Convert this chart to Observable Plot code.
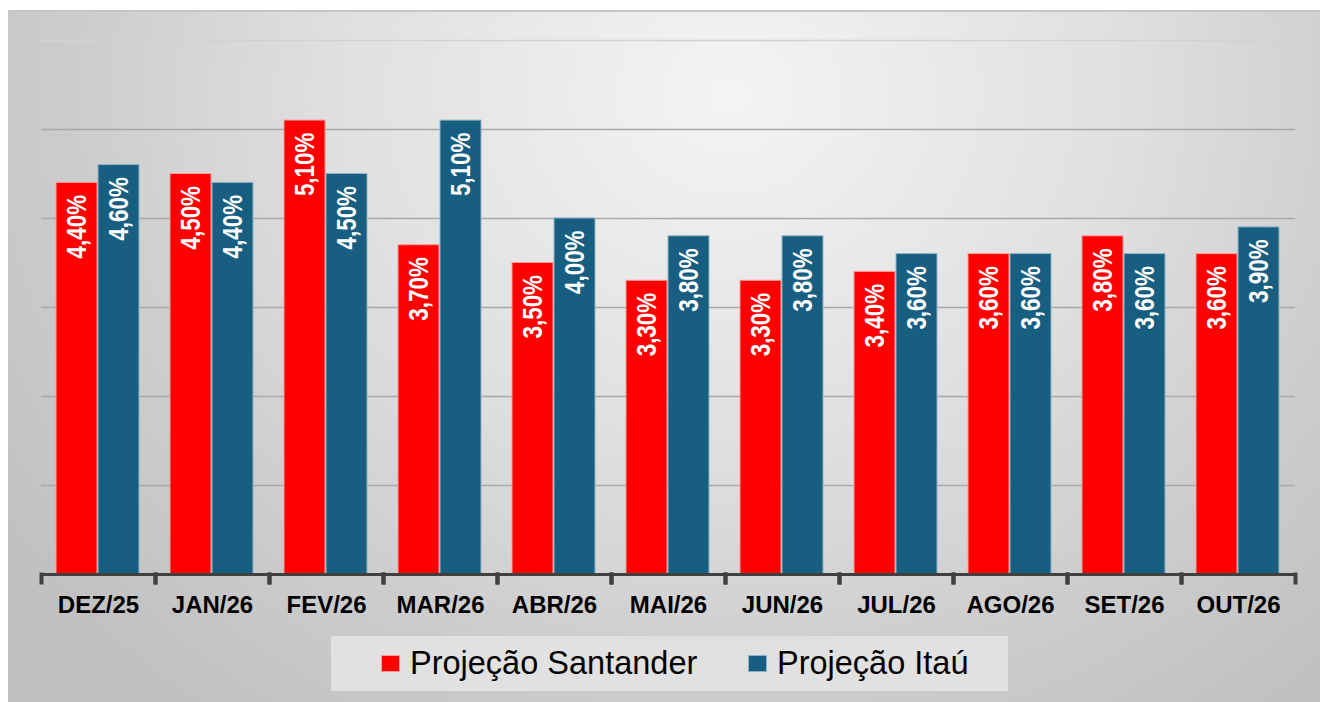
<!DOCTYPE html>
<html>
<head>
<meta charset="utf-8">
<script src="https://cdn.jsdelivr.net/npm/d3@7"></script>
<script src="https://cdn.jsdelivr.net/npm/@observablehq/plot@0.6"></script>
<style>
  html, body { margin: 0; padding: 0; background: #ffffff; width: 1320px; height: 702px; overflow: hidden; }
  #frame {
    position: absolute; left: 8px; top: 10px; width: 1312px; height: 692px;
    background: radial-gradient(ellipse 66% 112% at 55% 12%, #f4f4f4 0%, #e0e0e0 45%, #cdcdcd 75%, #c1c1c1 100%);
    border-top: 2px solid #c4c4c4; box-sizing: border-box;
  }
  #chart { position: absolute; left: 0; top: 0; }
  #legend {
    position: absolute; left: 331px; top: 636px; width: 677px; height: 55px;
    background: #e1e1e1; font-family: "Liberation Sans", Arial, sans-serif; font-size: 32.5px; color: #000;
  }
  .item { position: absolute; top: 0; height: 55px; display: flex; align-items: center; }
  .sw { width: 19px; height: 17px; margin-right: 10px; box-sizing: border-box; }
</style>
</head>
<body>
<div id="frame"></div>
<div id="chart"></div>
<div id="legend"></div>
<script>
const categories = ["DEZ/25", "JAN/26", "FEV/26", "MAR/26", "ABR/26", "MAI/26", "JUN/26", "JUL/26", "AGO/26", "SET/26", "OUT/26"];
const seriesNames = ["Projeção Santander", "Projeção Itaú"];
const santander = [4.4, 4.5, 5.1, 3.7, 3.5, 3.3, 3.3, 3.4, 3.6, 3.8, 3.6];
const itau = [4.6, 4.4, 4.5, 5.1, 4.0, 3.8, 3.8, 3.6, 3.6, 3.6, 3.9];
const colors = ["#ff0000", "#175e80"];
const strokes = ["#ff9a9a", "#8fb3c6"];
const gridValues = [1, 2, 3, 4, 5, 6];

const rows = [];
categories.forEach((c, i) => {
  rows.push({cat: c, series: seriesNames[0], value: santander[i]});
  rows.push({cat: c, series: seriesNames[1], value: itau[i]});
});
const fmt = v => v.toFixed(2).replace(".", ",") + "%";

const chart = Plot.plot({
  width: 1320,
  height: 630,
  marginLeft: 40,
  marginRight: 24,
  marginTop: 40,
  marginBottom: 56,
  style: {background: "transparent", overflow: "visible"},
  fx: {domain: categories, padding: 0, axis: null, label: null},
  x: {domain: seriesNames, paddingOuter: 0.34, paddingInner: 0.02, axis: null},
  y: {domain: [0, 6], axis: null},
  color: {domain: seriesNames, range: colors},
  marks: [
    Plot.ruleY(gridValues, {stroke: d => d === 6 ? "#d2d2d2" : "#a9a9a9", strokeWidth: 1.6}),
    Plot.barY(rows, {fx: "cat", x: "series", y: "value", fill: "series",
      stroke: d => strokes[seriesNames.indexOf(d.series)], strokeWidth: 1}),
    Plot.text(rows, {fx: "cat", x: "series", y: "value", text: d => fmt(d.value),
      rotate: -90, textAnchor: "end", lineAnchor: "middle", dy: 12,
      fill: "#ffffff", fontSize: 28, fontWeight: "bold",
      fontFamily: "'Liberation Sans', Arial, sans-serif", className: "barlabel"}),
    Plot.ruleY([0], {stroke: "#404040", strokeWidth: 3}),
    Plot.frame({anchor: "left", insetTop: 534, insetBottom: -8, stroke: "#404040", strokeWidth: 4}),
    Plot.frame({anchor: "right", insetTop: 534, insetBottom: -8, stroke: "#404040", strokeWidth: 4}),
    Plot.text(categories, {fx: d => d, frameAnchor: "bottom", dy: 31, lineAnchor: "middle",
      text: d => d, fill: "#000", fontSize: 24, fontWeight: "bold", letterSpacing: "-0.4px",
      fontFamily: "'Liberation Sans', Arial, sans-serif"})
  ]
});
document.getElementById("chart").appendChild(chart);

// condense bar value labels along their text direction
chart.querySelectorAll("g.barlabel text, .barlabel text").forEach(t => {
  const tr = t.getAttribute("transform") || "";
  t.setAttribute("transform", tr + " scale(0.8,1)");
});

const legend = document.getElementById("legend");
const legendLeft = [50, 417];
seriesNames.forEach((name, i) => {
  const item = document.createElement("div");
  item.className = "item";
  item.style.left = legendLeft[i] + "px";
  const sw = document.createElement("div");
  sw.className = "sw";
  sw.style.background = colors[i];
  sw.style.border = "1px solid " + strokes[i];
  const label = document.createElement("span");
  label.textContent = name;
  item.appendChild(sw);
  item.appendChild(label);
  legend.appendChild(item);
});
</script>
</body>
</html>
